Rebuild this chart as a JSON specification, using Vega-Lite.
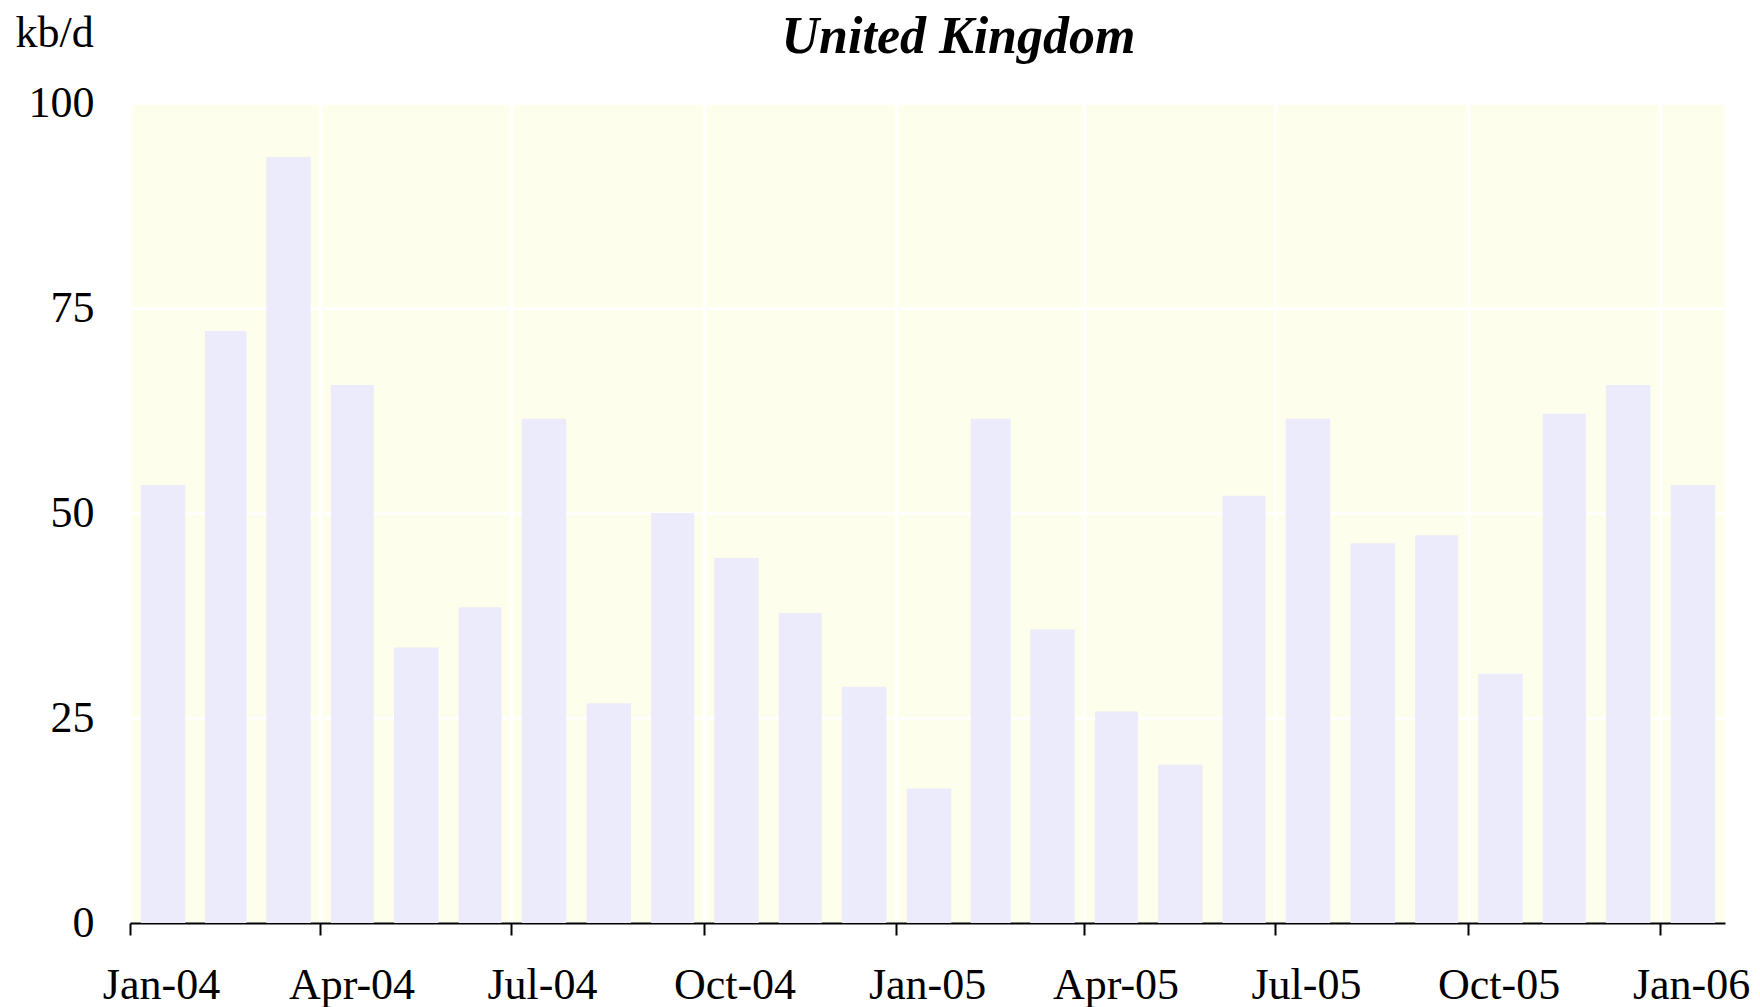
{
  "$schema": "https://vega.github.io/schema/vega-lite/v6.json",
  "width": 1595,
  "height": 820,
  "autosize": "none",
  "padding": {"left": 130, "top": 103, "right": 35, "bottom": 84},
  "background": "white",
  "title": {
    "text": "United Kingdom",
    "font": "Liberation Serif",
    "fontSize": 52,
    "fontStyle": "italic",
    "fontWeight": "bold",
    "color": "black",
    "anchor": "middle",
    "frame": "group",
    "dx": 31,
    "offset": -53
  },
  "config": {
    "view": {"fill": "#FDFEEB", "stroke": null},
    "axis": {"labelFont": "Liberation Serif", "titleFont": "Liberation Serif", "labelColor": "black", "titleColor": "black"}
  },
  "data": {
    "values": [
      {"month": "2004-01-15", "value": 53.4},
      {"month": "2004-02-15", "value": 72.2},
      {"month": "2004-03-15", "value": 93.4},
      {"month": "2004-04-15", "value": 65.6},
      {"month": "2004-05-15", "value": 33.6},
      {"month": "2004-06-15", "value": 38.5},
      {"month": "2004-07-15", "value": 61.5},
      {"month": "2004-08-15", "value": 26.8},
      {"month": "2004-09-15", "value": 50.0},
      {"month": "2004-10-15", "value": 44.5},
      {"month": "2004-11-15", "value": 37.8},
      {"month": "2004-12-15", "value": 28.8},
      {"month": "2005-01-15", "value": 16.4},
      {"month": "2005-02-15", "value": 61.5},
      {"month": "2005-03-15", "value": 35.8},
      {"month": "2005-04-15", "value": 25.8},
      {"month": "2005-05-15", "value": 19.3},
      {"month": "2005-06-15", "value": 52.1},
      {"month": "2005-07-15", "value": 61.5},
      {"month": "2005-08-15", "value": 46.3},
      {"month": "2005-09-15", "value": 47.3},
      {"month": "2005-10-15", "value": 30.4},
      {"month": "2005-11-15", "value": 62.1},
      {"month": "2005-12-15", "value": 65.6},
      {"month": "2006-01-15", "value": 53.4}
    ]
  },
  "mark": {"type": "bar", "color": "#ECEBFB", "width": {"band": 0.7}},
  "encoding": {
    "x": {
      "field": "month",
      "type": "temporal",
      "timeUnit": "yearmonth",
      "scale": {"domain": [{"year": 2004, "month": 1, "date": 1}, {"year": 2006, "month": 2, "date": 1}]},
      "axis": {
        "title": null,
        "format": "%b-%y",
        "values": [
          {"year": 2004, "month": 1, "date": 1},
          {"year": 2004, "month": 4, "date": 1},
          {"year": 2004, "month": 7, "date": 1},
          {"year": 2004, "month": 10, "date": 1},
          {"year": 2005, "month": 1, "date": 1},
          {"year": 2005, "month": 4, "date": 1},
          {"year": 2005, "month": 7, "date": 1},
          {"year": 2005, "month": 10, "date": 1},
          {"year": 2006, "month": 1, "date": 1}
        ],
        "labelFontSize": 44,
        "labelOffset": 31,
        "labelPadding": 28,
        "labelFlush": false,
        "labelOverlap": false,
        "domainColor": "black",
        "domainWidth": 2,
        "tickColor": "black",
        "tickWidth": 2,
        "tickSize": 12,
        "grid": true,
        "gridColor": "white",
        "gridWidth": 3
      }
    },
    "y": {
      "field": "value",
      "type": "quantitative",
      "scale": {"domain": [0, 100]},
      "axis": {
        "values": [0, 25, 50, 75, 100],
        "title": "kb/d",
        "titleAngle": 0,
        "titleAlign": "left",
        "titleBaseline": "alphabetic",
        "titleX": -115,
        "titleY": -57,
        "titleFontSize": 44,
        "titleFontWeight": "normal",
        "labelFontSize": 44,
        "labelPadding": 36,
        "ticks": false,
        "domain": false,
        "grid": true,
        "gridColor": "white",
        "gridWidth": 3
      }
    }
  }
}
